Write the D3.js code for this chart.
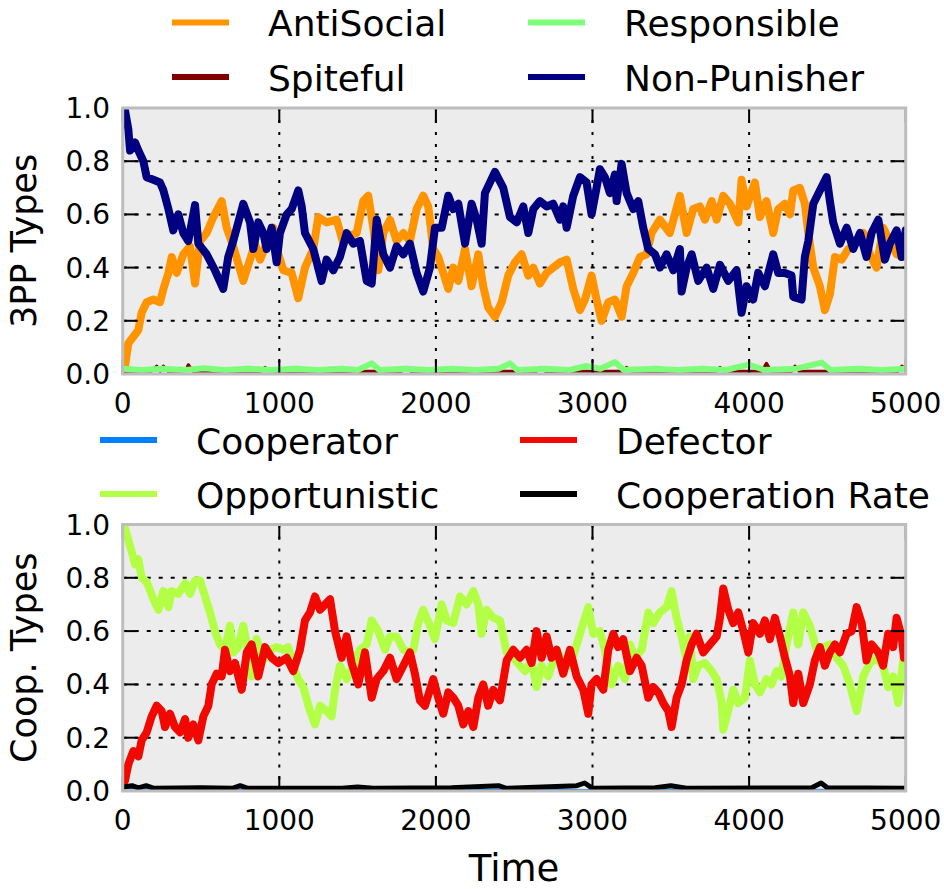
<!DOCTYPE html>
<html>
<head>
<meta charset="utf-8">
<script src="https://cdn.jsdelivr.net/npm/d3@7"></script>
<style>
  body { margin: 0; background: #fff; }
  svg text { font-family: "DejaVu Sans", sans-serif; fill: #000; }
</style>
</head>
<body>
<script>
const WIDTH  = 944;
const HEIGHT = 889;

// Time axis and tick values shared by both panels
const timeTicks  = [0, 1000, 2000, 3000, 4000, 5000];
const shareTicks = [0, 0.2, 0.4, 0.6, 0.8, 1.0];

// 3PP types -- [time, share]
const antiSocial = [[0,0.01],[15,0.03],[36,0.115],[68,0.14],[100,0.165],[121,0.23],[153,0.27],[196,0.28],[238,0.27],[260,0.32],[292,0.38],[313,0.44],[345,0.38],[387,0.45],[430,0.48],[462,0.34],[494,0.50],[536,0.53],[579,0.59],[632,0.65],[664,0.55],[706,0.48],[770,0.35],[813,0.43],[845,0.49],[877,0.43],[919,0.49],[962,0.55],[994,0.45],[1026,0.39],[1079,0.38],[1121,0.285],[1164,0.40],[1217,0.47],[1249,0.59],[1302,0.57],[1366,0.58],[1409,0.49],[1451,0.52],[1494,0.53],[1536,0.65],[1568,0.67],[1600,0.55],[1632,0.39],[1664,0.53],[1707,0.58],[1749,0.50],[1792,0.53],[1834,0.50],[1877,0.62],[1919,0.67],[1951,0.63],[1983,0.47],[2015,0.44],[2047,0.38],[2079,0.32],[2111,0.40],[2143,0.35],[2186,0.47],[2228,0.33],[2271,0.45],[2302,0.33],[2334,0.25],[2377,0.215],[2420,0.27],[2462,0.37],[2505,0.42],[2547,0.45],[2590,0.37],[2622,0.40],[2664,0.34],[2707,0.38],[2749,0.40],[2792,0.42],[2835,0.43],[2877,0.32],[2920,0.24],[2952,0.28],[2994,0.37],[3026,0.28],[3058,0.20],[3101,0.27],[3143,0.28],[3186,0.215],[3218,0.33],[3260,0.38],[3303,0.44],[3345,0.45],[3377,0.53],[3430,0.58],[3494,0.53],[3558,0.67],[3601,0.53],[3643,0.62],[3686,0.63],[3718,0.58],[3761,0.65],[3793,0.58],[3835,0.67],[3878,0.64],[3931,0.57],[3952,0.73],[3984,0.63],[4037,0.72],[4069,0.59],[4111,0.65],[4154,0.53],[4186,0.62],[4229,0.64],[4261,0.60],[4282,0.69],[4324,0.70],[4356,0.64],[4378,0.53],[4410,0.40],[4452,0.33],[4484,0.24],[4516,0.30],[4548,0.44],[4591,0.43],[4633,0.47],[4665,0.48],[4729,0.53],[4771,0.45],[4814,0.40],[4856,0.55],[4899,0.50],[4942,0.45],[4989,0.44],[5000,0.47]];

const spiteful = [[0,0.01],[180,0.01],[217,0.03],[240,0.01],[260,0.03],[290,0.01],[400,0.01],[419,0.035],[450,0.01],[880,0.01],[909,0.025],[940,0.01],[1780,0.01],[1810,0.025],[1840,0.01],[2640,0.01],[2670,0.025],[2700,0.01],[3190,0.01],[3218,0.025],[3250,0.01],[3790,0.01],[3814,0.025],[3840,0.01],[4080,0.01],[4111,0.04],[4140,0.01],[4270,0.01],[4293,0.03],[4320,0.01],[4950,0.01],[4975,0.03],[5000,0.02]];

const responsible = [[0,0.02],[120,0.015],[250,0.02],[400,0.015],[520,0.022],[650,0.015],[800,0.02],[950,0.015],[1100,0.02],[1250,0.015],[1400,0.02],[1500,0.015],[1590,0.04],[1640,0.015],[1800,0.02],[1950,0.015],[2100,0.02],[2250,0.015],[2400,0.02],[2473,0.04],[2520,0.015],[2700,0.02],[2850,0.015],[2960,0.03],[3050,0.02],[3143,0.045],[3200,0.015],[3400,0.02],[3550,0.015],[3700,0.02],[3850,0.015],[3995,0.035],[4100,0.015],[4300,0.02],[4463,0.043],[4520,0.015],[4700,0.02],[4850,0.015],[5000,0.02]];

const nonPunisher = [[0,0.97],[15,0.99],[36,0.92],[47,0.84],[79,0.87],[100,0.84],[132,0.80],[153,0.74],[196,0.73],[238,0.72],[260,0.69],[292,0.62],[323,0.54],[355,0.60],[387,0.53],[419,0.50],[462,0.635],[483,0.49],[536,0.45],[589,0.39],[642,0.32],[674,0.44],[706,0.50],[770,0.64],[813,0.57],[834,0.47],[866,0.57],[898,0.53],[919,0.47],[951,0.55],[983,0.42],[1004,0.53],[1047,0.60],[1079,0.62],[1121,0.69],[1143,0.63],[1164,0.53],[1217,0.47],[1270,0.35],[1302,0.43],[1345,0.39],[1387,0.44],[1430,0.53],[1472,0.49],[1515,0.50],[1558,0.35],[1590,0.34],[1622,0.58],[1664,0.45],[1707,0.40],[1749,0.48],[1792,0.45],[1834,0.49],[1877,0.38],[1919,0.31],[1962,0.40],[1994,0.55],[2037,0.55],[2079,0.67],[2111,0.62],[2143,0.64],[2186,0.49],[2228,0.64],[2260,0.58],[2292,0.49],[2313,0.68],[2377,0.76],[2430,0.70],[2473,0.59],[2516,0.57],[2558,0.63],[2590,0.53],[2622,0.62],[2664,0.65],[2707,0.63],[2749,0.64],[2792,0.58],[2813,0.63],[2835,0.55],[2877,0.67],[2920,0.74],[2962,0.72],[2994,0.60],[3026,0.70],[3047,0.77],[3079,0.74],[3111,0.68],[3143,0.75],[3154,0.65],[3186,0.79],[3218,0.68],[3260,0.62],[3292,0.65],[3324,0.55],[3356,0.47],[3399,0.45],[3431,0.40],[3473,0.45],[3516,0.39],[3558,0.47],[3569,0.31],[3601,0.40],[3633,0.45],[3675,0.35],[3729,0.40],[3771,0.32],[3814,0.41],[3867,0.35],[3920,0.39],[3952,0.23],[3984,0.33],[4026,0.28],[4058,0.38],[4101,0.33],[4154,0.45],[4186,0.38],[4229,0.38],[4271,0.37],[4282,0.29],[4335,0.28],[4356,0.44],[4378,0.50],[4410,0.64],[4452,0.69],[4495,0.74],[4516,0.65],[4537,0.57],[4580,0.49],[4623,0.55],[4665,0.47],[4708,0.53],[4750,0.44],[4782,0.53],[4825,0.58],[4867,0.43],[4899,0.49],[4942,0.54],[4974,0.44],[5000,0.54]];

// Cooperation types -- [time, share]
const cooperator = [[0,0.01],[1000,0.004],[2000,0.005],[3000,0.004],[4000,0.005],[5000,0.004]];

const opportunistic = [[0,0.97],[15,0.985],[47,0.92],[79,0.85],[100,0.87],[121,0.80],[153,0.785],[196,0.72],[228,0.68],[260,0.75],[292,0.69],[313,0.75],[355,0.74],[398,0.78],[430,0.74],[462,0.79],[494,0.79],[526,0.73],[558,0.67],[589,0.60],[621,0.55],[653,0.53],[685,0.62],[706,0.52],[738,0.54],[770,0.62],[802,0.52],[823,0.43],[855,0.57],[898,0.49],[940,0.53],[983,0.54],[1026,0.53],[1057,0.54],[1089,0.47],[1121,0.42],[1153,0.39],[1196,0.30],[1228,0.25],[1260,0.32],[1302,0.30],[1334,0.28],[1356,0.38],[1387,0.47],[1430,0.42],[1472,0.47],[1515,0.53],[1558,0.55],[1590,0.64],[1632,0.60],[1675,0.53],[1707,0.58],[1749,0.58],[1792,0.53],[1834,0.52],[1856,0.53],[1887,0.63],[1919,0.68],[1962,0.62],[1994,0.57],[2037,0.70],[2069,0.64],[2111,0.63],[2154,0.73],[2196,0.70],[2239,0.75],[2271,0.70],[2292,0.59],[2324,0.68],[2366,0.65],[2409,0.64],[2452,0.52],[2494,0.50],[2537,0.47],[2569,0.45],[2611,0.49],[2643,0.39],[2675,0.47],[2718,0.43],[2771,0.53],[2813,0.48],[2856,0.47],[2899,0.55],[2941,0.63],[2973,0.69],[3005,0.59],[3047,0.60],[3079,0.53],[3122,0.40],[3164,0.47],[3207,0.42],[3239,0.55],[3271,0.50],[3314,0.53],[3356,0.67],[3388,0.63],[3430,0.67],[3473,0.69],[3505,0.75],[3537,0.65],[3569,0.58],[3601,0.49],[3622,0.58],[3643,0.42],[3675,0.47],[3718,0.48],[3761,0.45],[3793,0.42],[3825,0.33],[3835,0.23],[3867,0.30],[3899,0.38],[3931,0.33],[3973,0.35],[4005,0.49],[4037,0.40],[4069,0.37],[4111,0.42],[4143,0.40],[4175,0.45],[4207,0.43],[4239,0.55],[4282,0.67],[4314,0.55],[4346,0.67],[4388,0.62],[4431,0.53],[4473,0.54],[4516,0.55],[4559,0.50],[4601,0.47],[4644,0.40],[4687,0.30],[4729,0.43],[4771,0.48],[4814,0.50],[4856,0.47],[4888,0.39],[4920,0.43],[4952,0.33],[4984,0.49],[5000,0.47]];

const defector = [[0,0.02],[15,0.04],[36,0.10],[68,0.15],[100,0.13],[121,0.19],[153,0.22],[185,0.28],[217,0.32],[249,0.30],[270,0.24],[302,0.29],[334,0.24],[366,0.22],[398,0.27],[419,0.20],[451,0.25],[483,0.19],[515,0.28],[547,0.32],[568,0.40],[600,0.44],[632,0.43],[653,0.53],[685,0.45],[717,0.48],[760,0.38],[792,0.52],[823,0.55],[866,0.43],[909,0.54],[951,0.50],[994,0.48],[1047,0.50],[1089,0.45],[1132,0.53],[1164,0.64],[1196,0.67],[1228,0.73],[1260,0.68],[1292,0.70],[1324,0.72],[1356,0.60],[1398,0.50],[1430,0.58],[1462,0.48],[1504,0.40],[1547,0.52],[1590,0.35],[1622,0.42],[1664,0.45],[1707,0.50],[1749,0.42],[1792,0.47],[1834,0.52],[1866,0.44],[1898,0.34],[1930,0.32],[1962,0.38],[1983,0.42],[2015,0.35],[2047,0.29],[2079,0.37],[2111,0.35],[2143,0.32],[2175,0.25],[2207,0.30],[2239,0.24],[2271,0.35],[2302,0.40],[2334,0.32],[2366,0.38],[2409,0.34],[2452,0.49],[2494,0.53],[2537,0.50],[2579,0.53],[2611,0.48],[2643,0.60],[2675,0.50],[2707,0.58],[2739,0.50],[2771,0.53],[2813,0.44],[2856,0.53],[2899,0.43],[2941,0.38],[2973,0.29],[2994,0.40],[3026,0.42],[3069,0.38],[3101,0.53],[3133,0.59],[3164,0.54],[3196,0.57],[3239,0.45],[3282,0.50],[3314,0.47],[3356,0.35],[3388,0.39],[3420,0.37],[3452,0.33],[3484,0.30],[3505,0.24],[3537,0.35],[3569,0.40],[3601,0.49],[3633,0.55],[3665,0.59],[3707,0.52],[3750,0.55],[3793,0.58],[3814,0.65],[3835,0.76],[3867,0.68],[3899,0.63],[3931,0.67],[3963,0.60],[3995,0.52],[4026,0.63],[4069,0.59],[4101,0.64],[4133,0.57],[4165,0.65],[4197,0.58],[4229,0.50],[4261,0.43],[4282,0.33],[4314,0.44],[4346,0.33],[4388,0.40],[4420,0.49],[4452,0.54],[4484,0.47],[4516,0.52],[4548,0.55],[4580,0.52],[4623,0.59],[4655,0.60],[4687,0.69],[4719,0.63],[4750,0.49],[4782,0.55],[4825,0.52],[4856,0.47],[4888,0.59],[4920,0.54],[4942,0.65],[4974,0.58],[4989,0.50],[5000,0.58]];

const cooperationRate = [[0,0.015],[60,0.02],[100,0.012],[150,0.02],[200,0.01],[500,0.012],[700,0.01],[750,0.02],[800,0.01],[1400,0.01],[1500,0.015],[1600,0.01],[2100,0.012],[2400,0.02],[2450,0.01],[2900,0.02],[2950,0.03],[3000,0.01],[3400,0.012],[3500,0.02],[3600,0.01],[4400,0.012],[4460,0.03],[4500,0.012],[5000,0.01]];

const svg = d3.select('body').append('svg')
    .attr('width', WIDTH)
    .attr('height', HEIGHT);

const x = d3.scaleLinear().domain([0, 5000]).range([122.7, 905.7]);

// One panel: background, grid, series, frame, ticks and legend
const drawPanel = (cfg) => {
    const y = d3.scaleLinear().domain([0, 1]).range([cfg.bottom, cfg.top]);
    const [x0, x1] = x.range();
    const g = svg.append('g');

    const clipId = 'clip-' + cfg.id;
    g.append('clipPath').attr('id', clipId)
      .append('rect')
        .attr('x', x0).attr('y', cfg.top)
        .attr('width', x1 - x0).attr('height', cfg.bottom - cfg.top);

    g.append('rect')
        .attr('x', x0).attr('y', cfg.top)
        .attr('width', x1 - x0).attr('height', cfg.bottom - cfg.top)
        .attr('fill', '#ececec');

    // dotted grid
    g.selectAll('.vgrid').data(timeTicks.slice(1, -1)).enter()
      .append('line')
        .attr('x1', d => x(d)).attr('x2', d => x(d))
        .attr('y1', cfg.top).attr('y2', cfg.bottom)
        .attr('stroke', '#000').attr('stroke-width', 2)
        .attr('stroke-dasharray', '3,9');
    g.selectAll('.hgrid').data(shareTicks.slice(1, -1)).enter()
      .append('line')
        .attr('x1', x0).attr('x2', x1)
        .attr('y1', d => y(d)).attr('y2', d => y(d))
        .attr('stroke', '#000').attr('stroke-width', 2)
        .attr('stroke-dasharray', '4,8');

    const line = d3.line().x(d => x(d[0])).y(d => y(d[1]));
    const plot = g.append('g').attr('clip-path', `url(#${clipId})`);
    cfg.series.forEach(s => {
        plot.append('path')
            .attr('d', line(s.data))
            .attr('fill', 'none')
            .attr('stroke', s.color)
            .attr('stroke-width', s.width)
            .attr('stroke-linejoin', 'round')
            .attr('stroke-linecap', 'round');
    });

    // inward ticks on all four sides
    const TL = 15;
    const ticks = g.append('g').attr('stroke', '#000').attr('stroke-width', 2);
    timeTicks.forEach(t => {
        ticks.append('line').attr('x1', x(t)).attr('x2', x(t))
            .attr('y1', cfg.bottom).attr('y2', cfg.bottom - TL);
        ticks.append('line').attr('x1', x(t)).attr('x2', x(t))
            .attr('y1', cfg.top).attr('y2', cfg.top + TL);
    });
    shareTicks.forEach(v => {
        ticks.append('line').attr('x1', x0).attr('x2', x0 + TL)
            .attr('y1', y(v)).attr('y2', y(v));
        ticks.append('line').attr('x1', x1).attr('x2', x1 - TL)
            .attr('y1', y(v)).attr('y2', y(v));
    });

    g.append('rect')
        .attr('x', x0).attr('y', cfg.top)
        .attr('width', x1 - x0).attr('height', cfg.bottom - cfg.top)
        .attr('fill', 'none')
        .attr('stroke', '#bdbdbd').attr('stroke-width', 3);

    // tick labels
    g.selectAll('.xlab').data(timeTicks).enter()
      .append('text')
        .attr('x', d => x(d)).attr('y', cfg.bottom + 39)
        .attr('text-anchor', 'middle')
        .style('font-size', '28px')
        .text(d => d);
    g.selectAll('.ylab').data(shareTicks).enter()
      .append('text')
        .attr('x', 110).attr('y', d => y(d))
        .attr('dy', '0.36em')
        .attr('text-anchor', 'end')
        .style('font-size', '28px')
        .text(d => d.toFixed(1));

    g.append('text')
        .attr('transform', `translate(36,${(cfg.top + cfg.bottom) / 2}) rotate(-90)`)
        .attr('text-anchor', 'middle')
        .style('font-size', '35px')
        .text(cfg.label);

    // legend, two columns
    cfg.legend.forEach((s, i) => {
        const col = i % 2, row = Math.floor(i / 2);
        const lx = cfg.legendX[col], ly = cfg.legendY[row];
        g.append('line')
            .attr('x1', lx).attr('x2', lx + 57)
            .attr('y1', ly).attr('y2', ly)
            .attr('stroke', s.color).attr('stroke-width', 6);
        g.append('text')
            .attr('x', lx + 96).attr('y', ly + 13.5)
            .style('font-size', '36px')
            .text(s.name);
    });
};

const AS = {name: 'AntiSocial',   color: '#ff9400', width: 8, data: antiSocial};
const SP = {name: 'Spiteful',     color: '#800000', width: 3, data: spiteful};
const RE = {name: 'Responsible',  color: '#7dff7a', width: 6, data: responsible};
const NP = {name: 'Non-Punisher', color: '#000080', width: 8, data: nonPunisher};

const CO = {name: 'Cooperator',       color: '#0080ff', width: 2, data: cooperator};
const OP = {name: 'Opportunistic',    color: '#b2ff46', width: 8, data: opportunistic};
const DE = {name: 'Defector',         color: '#f10800', width: 8, data: defector};
const CR = {name: 'Cooperation Rate', color: '#000000', width: 5, data: cooperationRate};

drawPanel({
    id: 'top', top: 108, bottom: 374, label: '3PP Types',
    series: [AS, SP, RE, NP],
    legend: [AS, RE, SP, NP],
    legendX: [172, 528], legendY: [22.5, 77]
});

drawPanel({
    id: 'bottom', top: 524.5, bottom: 791, label: 'Coop. Types',
    series: [CO, OP, DE, CR],
    legend: [CO, DE, OP, CR],
    legendX: [100, 520], legendY: [440, 494]
});

svg.append('text')
    .attr('x', 514).attr('y', 881)
    .attr('text-anchor', 'middle')
    .style('font-size', '37px')
    .text('Time');
</script>
</body>
</html>
